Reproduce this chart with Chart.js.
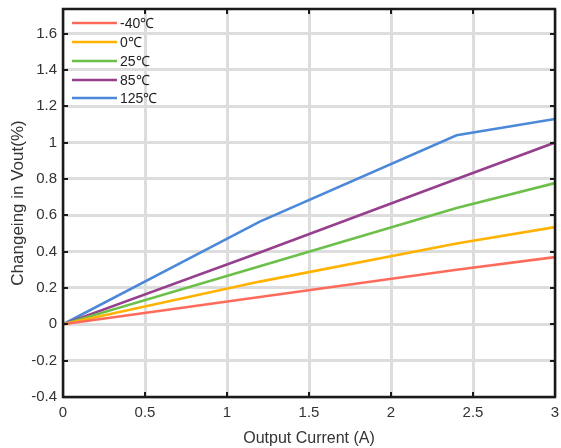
<!DOCTYPE html>
<html><head><meta charset="utf-8">
<script src="https://cdn.jsdelivr.net/npm/chart.js@4/dist/chart.umd.min.js"></script>
<style>html,body{margin:0;padding:0;background:#fff}#wrap{width:561px;height:448px}</style>
</head><body><div id="wrap"><canvas id="c" width="561" height="448"></canvas></div>
<script>
const currents = [0, 1.2, 2.4, 3];
const seriesLabels = ['-40\u2103', '0\u2103', '25\u2103', '85\u2103', '125\u2103'];
const tM40 = [0, 0.15, 0.30, 0.37];
const t0 = [0, 0.235, 0.445, 0.535];
const t25 = [0, 0.32, 0.64, 0.777];
const t85 = [0, 0.395, 0.80, 1.0];
const t125 = [0, 0.565, 1.04, 1.13];
const colors = ['#ff6b5a', '#ffb300', '#6cc04a', '#963f8c', '#4c88d8'];
const xTicks = [0, 0.5, 1, 1.5, 2, 2.5, 3];
const yTicks = [-0.4, -0.2, 0, 0.2, 0.4, 0.6, 0.8, 1, 1.2, 1.4, 1.6];

const allSeries = [tM40, t0, t25, t85, t125];
const datasets = allSeries.map((s, i) => ({
  label: seriesLabels[i],
  data: s.map((v, j) => ({x: currents[j], y: v})),
  borderColor: colors[i], backgroundColor: colors[i],
  borderWidth: 2.6, pointRadius: 0, tension: 0, fill: false
}));

const FONT = 'Liberation Sans, Arial, sans-serif';

const framePlugin = {
  id: 'frame',
  afterDraw(chart) {
    const {ctx, chartArea: a, scales: {x, y}} = chart;
    ctx.save();
    ctx.strokeStyle = '#1a1a1a';
    ctx.lineWidth = 2;
    xTicks.forEach(v => {
      const px = Math.round(x.getPixelForValue(v));
      ctx.beginPath(); ctx.moveTo(px, a.bottom); ctx.lineTo(px, a.bottom - 5); ctx.stroke();
      ctx.beginPath(); ctx.moveTo(px, a.top); ctx.lineTo(px, a.top + 5); ctx.stroke();
    });
    yTicks.forEach(v => {
      const py = Math.round(y.getPixelForValue(v));
      ctx.beginPath(); ctx.moveTo(a.left, py); ctx.lineTo(a.left + 5, py); ctx.stroke();
      ctx.beginPath(); ctx.moveTo(a.right, py); ctx.lineTo(a.right - 5, py); ctx.stroke();
    });
    ctx.lineWidth = 2.5;
    ctx.strokeRect(a.left, a.top, a.right - a.left, a.bottom - a.top);
    // legend
    const ys = [23, 42, 61, 80, 98];
    ctx.font = '14px ' + FONT;
    ctx.textBaseline = 'middle';
    ctx.fillStyle = '#222';
    chart.data.datasets.forEach((d, i) => {
      ctx.strokeStyle = d.borderColor;
      ctx.lineWidth = 2.6;
      ctx.beginPath(); ctx.moveTo(72, ys[i]); ctx.lineTo(117, ys[i]); ctx.stroke();
      ctx.fillText(d.label, 120, ys[i] + 1);
    });
    ctx.restore();
  }
};

new Chart(document.getElementById('c'), {
  type: 'line',
  data: {datasets},
  options: {
    responsive: false, animation: false,
    layout: {padding: {top: 9, right: 6, left: 0, bottom: 0}},
    plugins: {legend: {display: false}, tooltip: {enabled: false}},
    scales: {
      x: {
        type: 'linear', min: 0, max: 3,
        afterBuildTicks: s => { s.ticks = xTicks.map(v => ({value: v})); },
        afterFit: s => { s.height = 51; s.paddingLeft = 0; s.paddingRight = 0; },
        grid: {color: '#dddddd', lineWidth: 3, drawTicks: false},
        border: {display: false},
        ticks: {color: '#333', font: {family: FONT, size: 15}, padding: 7, maxRotation: 0,
          callback: v => String(v)},
        title: {display: true, text: 'Output Current (A)', color: '#333', font: {family: FONT, size: 16}, padding: {top: 1, bottom: 0}}
      },
      y: {
        type: 'linear', min: -0.4, max: 1.735,
        afterBuildTicks: s => { s.ticks = yTicks.map(v => ({value: v})); },
        afterFit: s => { s.width = 63; s.paddingTop = 0; s.paddingBottom = 0; },
        grid: {color: '#dddddd', lineWidth: 3, drawTicks: false},
        border: {display: false},
        ticks: {color: '#333', font: {family: FONT, size: 15}, padding: 6,
          callback: v => String(Math.round(v * 10) / 10)},
        title: {display: true, text: 'Changeing in Vout(%)', color: '#333', font: {family: FONT, size: 17}, padding: {top: 8, bottom: 4}}
      }
    }
  },
  plugins: [framePlugin]
});
</script></body></html>
